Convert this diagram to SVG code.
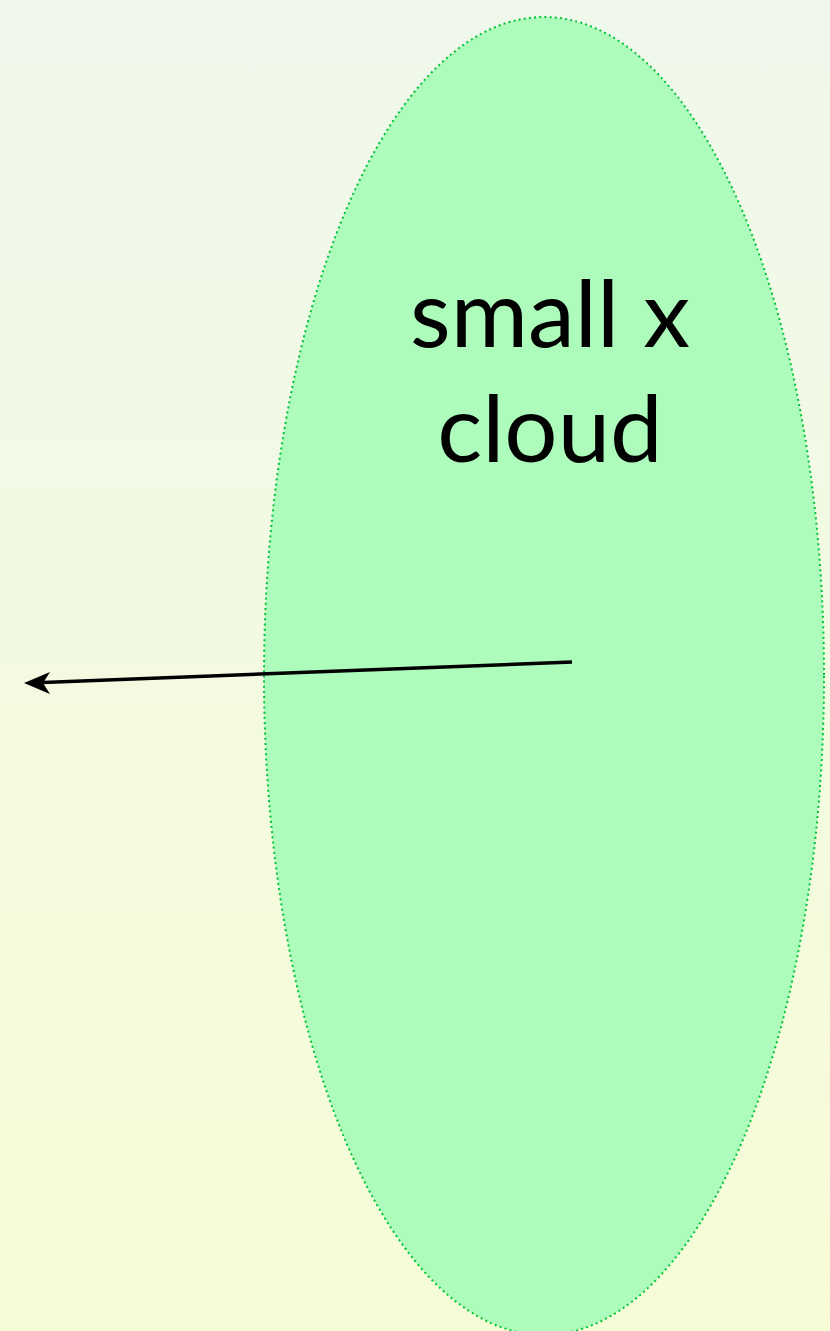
<svg xmlns="http://www.w3.org/2000/svg" width="830" height="1331" viewBox="0 0 830 1331">
<defs>
<linearGradient id="bg" x1="0" y1="0" x2="0" y2="1">
<stop offset="0" stop-color="#f0f8ec"/>
<stop offset="1" stop-color="#f6fcd6"/>
</linearGradient>
<style>
.lbl{font-family:"Lato","Open Sans","Liberation Sans",sans-serif;font-size:94px;fill:#000;text-anchor:middle}
.cloud{fill:#adfcbc;stroke:#00c437;stroke-width:2;stroke-dasharray:2 3.2}
</style>
</defs>
<rect width="830" height="1331" fill="url(#bg)"/>
<g id="cloud">
<ellipse class="cloud" cx="544" cy="676" rx="280" ry="659"/>
<text class="lbl" x="550" y="347">small x</text>
<text class="lbl" x="550" y="462">cloud</text>
</g>
<g id="connectors">
<line x1="572" y1="662" x2="30" y2="683" stroke="#000" stroke-width="3.5"/>
<path d="M24,683 L50,672 L43,683 L50,694 Z" fill="#000"/>
</g>
</svg>
